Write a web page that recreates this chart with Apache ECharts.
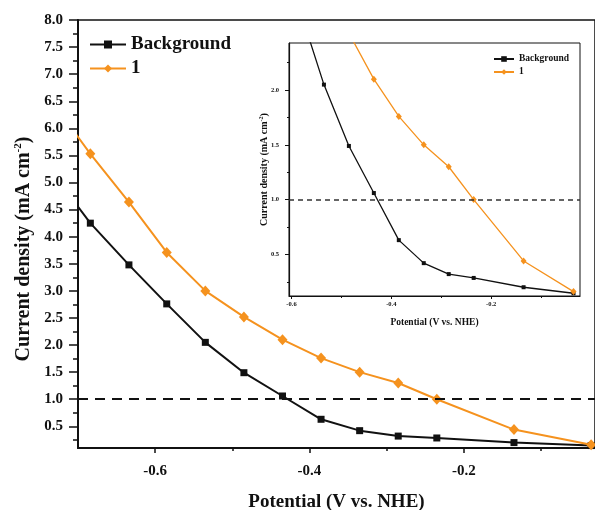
<!DOCTYPE html>
<html>
<head>
<meta charset="utf-8">
<script src="https://cdn.jsdelivr.net/npm/echarts@6/dist/echarts.min.js"></script>
<style>html,body{margin:0;padding:0;background:#fff}#c{width:595px;height:510px}</style>
</head>
<body>
<div id="c"></div>
<script>
// Data
const potential = [-0.734, -0.684, -0.634, -0.585, -0.535, -0.485, -0.435, -0.385, -0.335, -0.285, -0.235, -0.135, -0.035];
const background = [5.2, 4.25, 3.48, 2.76, 2.05, 1.49, 1.06, 0.63, 0.42, 0.32, 0.285, 0.2, 0.145];
const sample1 = [6.5, 5.53, 4.64, 3.71, 3.0, 2.52, 2.1, 1.76, 1.5, 1.3, 1.0, 0.44, 0.16];
const thresholdY = 1.0;

const mainXTicks = [-0.6, -0.4, -0.2];
const mainXMinor = [-0.5, -0.3, -0.1];
const mainYTicks = [0.5, 1.0, 1.5, 2.0, 2.5, 3.0, 3.5, 4.0, 4.5, 5.0, 5.5, 6.0, 6.5, 7.0, 7.5, 8.0];
const mainYMinor = [0.25, 0.75, 1.25, 1.75, 2.25, 2.75, 3.25, 3.75, 4.25, 4.75, 5.25, 5.75, 6.25, 6.75, 7.25, 7.75];
const insetXTicks = [-0.6, -0.4, -0.2];
const insetXMinor = [-0.5, -0.3, -0.1];
const insetYTicks = [0.5, 1.0, 1.5, 2.0];
const insetYMinor = [0.25, 0.75, 1.25, 1.75, 2.25];

const seriesNames = ['Background', '1'];
const FONT = '"Liberation Serif", "Times New Roman", serif';
const ORANGE = '#F5921E';
const BLACK = '#111111';

const pairs = (ys) => potential.map((x, i) => [x, ys[i]]);

function majorX(grid, min, max, ticks, fs, margin, len, name, nameGap, nfs) {
  return {
    type: 'value', gridIndex: grid, min: min, max: max, position: 'bottom',
    axisLine: { show: true, onZero: false, lineStyle: { color: BLACK, width: grid === 0 ? 2 : 1.2 } },
    axisTick: { show: true, inside: false, length: len, customValues: ticks, lineStyle: { color: BLACK, width: grid === 0 ? 1.5 : 1 } },
    axisLabel: { show: true, customValues: ticks, margin: margin, fontFamily: FONT, fontWeight: 'bold', fontSize: fs, color: BLACK,
      formatter: (v) => v.toFixed(1) },
    splitLine: { show: false },
    name: name, nameLocation: 'middle', nameGap: nameGap, nameMoveOverlap: false,
    nameTextStyle: { fontFamily: FONT, fontWeight: 'bold', fontSize: nfs, color: BLACK }
  };
}
function minorX(grid, min, max, ticks, len) {
  return {
    type: 'value', gridIndex: grid, min: min, max: max, position: 'bottom',
    axisLine: { show: false, onZero: false },
    axisTick: { show: true, inside: false, length: len, customValues: ticks, lineStyle: { color: BLACK, width: grid === 0 ? 1.5 : 1 } },
    axisLabel: { show: false }, splitLine: { show: false }
  };
}
function majorY(grid, min, max, ticks, fs, margin, len, nameGap, nfs, supfs, shift) {
  return {
    type: 'value', gridIndex: grid, min: min, max: max, position: 'left',
    axisLine: { show: true, onZero: false, lineStyle: { color: BLACK, width: grid === 0 ? 2 : 1.2 } },
    axisTick: { show: true, inside: false, length: len, customValues: ticks, lineStyle: { color: BLACK, width: grid === 0 ? 1.5 : 1 } },
    axisLabel: { show: true, customValues: ticks, margin: margin, fontFamily: FONT, fontWeight: 'bold', fontSize: fs, color: BLACK,
      formatter: (v) => v.toFixed(1) },
    splitLine: { show: false },
    name: 'Current density (mA cm{sup|-2})', nameLocation: 'middle', nameGap: nameGap, nameMoveOverlap: false,
    nameTextStyle: { fontFamily: FONT, fontWeight: 'bold', fontSize: nfs, color: BLACK, lineHeight: nfs + 2,
      padding: [0, shift, 0, 0],
      rich: { sup: { fontFamily: FONT, fontWeight: 'bold', fontSize: supfs, color: BLACK, verticalAlign: 'top', lineHeight: nfs + 2, padding: [0, 0, nfs * 0.5, 0] } } }
  };
}
function minorY(grid, min, max, ticks, len) {
  return {
    type: 'value', gridIndex: grid, min: min, max: max, position: 'left',
    axisLine: { show: false, onZero: false },
    axisTick: { show: true, inside: false, length: len, customValues: ticks, lineStyle: { color: BLACK, width: grid === 0 ? 1.5 : 1 } },
    axisLabel: { show: false }, splitLine: { show: false }
  };
}

const MX = [-0.7, -0.03], MY = [0.1, 8.0];
const IX = [-0.605, -0.022], IY = [0.12, 2.43];

const option = {
  animation: false,
  backgroundColor: '#fff',
  grid: [
    { left: 78, top: 20, right: 0, bottom: 62, outerBoundsMode: 'none', containLabel: false, show: true, borderColor: BLACK, borderWidth: 1.5, backgroundColor: 'transparent' },
    { left: 289, top: 43, width: 291, height: 253, outerBoundsMode: 'none', containLabel: false, show: true, borderColor: BLACK, borderWidth: 1, backgroundColor: '#fff' }
  ],
  legend: [
    { data: seriesNames, orient: 'vertical', left: 89, top: 35, padding: 0, itemWidth: 36, itemHeight: 10, itemGap: 5,
      textStyle: { fontFamily: FONT, fontWeight: 'bold', fontSize: 19, color: BLACK } },
    { data: seriesNames, orient: 'vertical', left: 493, top: 54, padding: 0, itemWidth: 20, itemHeight: 7, itemGap: 3,
      textStyle: { fontFamily: FONT, fontWeight: 'bold', fontSize: 9.5, color: BLACK } }
  ],
  xAxis: [
    majorX(0, MX[0], MX[1], mainXTicks, 15, 16, 5, 'Potential (V vs. NHE)', 45, 19),
    minorX(0, MX[0], MX[1], mainXMinor, 3),
    majorX(1, IX[0], IX[1], insetXTicks, 6.5, 5, 3, 'Potential (V vs. NHE)', 22, 9.5),
    minorX(1, IX[0], IX[1], insetXMinor, 2)
  ],
  yAxis: [
    majorY(0, MY[0], MY[1], mainYTicks, 15, 15, 9, 43, 20, 11, 30),
    minorY(0, MY[0], MY[1], mainYMinor, 5),
    majorY(1, IY[0], IY[1], insetYTicks, 6.5, 10, 4, 19, 10, 6, 0),
    minorY(1, IY[0], IY[1], insetYMinor, 2)
  ],
  series: [
    { name: 'Background', type: 'line', xAxisIndex: 0, yAxisIndex: 0, data: pairs(background), clip: true,
      symbol: 'rect', symbolSize: 7, lineStyle: { color: BLACK, width: 2 }, itemStyle: { color: BLACK },
      markLine: { silent: true, symbol: ['none', 'none'], label: { show: false },
        lineStyle: { color: BLACK, type: [10, 7], width: 2 }, data: [{ yAxis: thresholdY }] } },
    { name: '1', type: 'line', xAxisIndex: 0, yAxisIndex: 0, data: pairs(sample1), clip: true,
      symbol: 'diamond', symbolSize: [10, 11], lineStyle: { color: ORANGE, width: 2 }, itemStyle: { color: ORANGE } },
    { name: 'Background', type: 'line', xAxisIndex: 2, yAxisIndex: 2, data: pairs(background), clip: true,
      symbol: 'rect', symbolSize: 4, lineStyle: { color: BLACK, width: 1.3 }, itemStyle: { color: BLACK },
      markLine: { silent: true, symbol: ['none', 'none'], label: { show: false },
        lineStyle: { color: '#333', type: [5, 4], width: 1.5 }, data: [{ yAxis: thresholdY }] } },
    { name: '1', type: 'line', xAxisIndex: 2, yAxisIndex: 2, data: pairs(sample1), clip: true,
      symbol: 'diamond', symbolSize: [6, 7], lineStyle: { color: ORANGE, width: 1.3 }, itemStyle: { color: ORANGE } }
  ]
};
const chart = echarts.init(document.getElementById('c'), null, { renderer: 'canvas' });
chart.setOption(option);
</script>
</body>
</html>
